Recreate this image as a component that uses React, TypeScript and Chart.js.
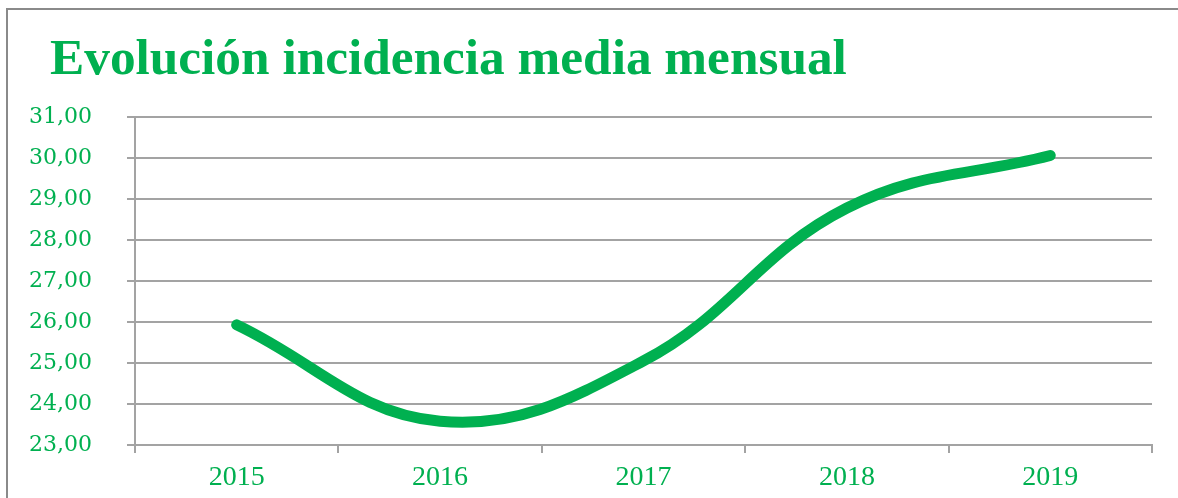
import React, { useEffect, useRef } from "react";
import { Chart, registerables } from "chart.js";

Chart.register(...registerables);

const TITLE = "Evolución incidencia media mensual";
const categories = ["2015", "2016", "2017", "2018", "2019"];
const incidence = [25.93, 23.58, 25.05, 28.78, 30.06];
const yMin = 23;
const yMax = 31;
const yStep = 1;

const GREEN = "#00B050";
const GRID = "#a3a3a3";

const decoPlugin = {
  id: "deco",
  beforeDraw(chart: any) {
    const ctx = chart.ctx;
    ctx.save();
    ctx.strokeStyle = "#8a8a8a";
    ctx.lineWidth = 2;
    ctx.strokeRect(7, 9, 1200, 520);
    ctx.restore();
  },
  afterDraw(chart: any) {
    const ctx = chart.ctx;
    ctx.save();
    let size = 50;
    ctx.font = `bold ${size}px "Liberation Serif"`;
    const w = ctx.measureText(TITLE).width;
    size = (size * 797) / w;
    ctx.font = `bold ${size}px "Liberation Serif"`;
    ctx.fillStyle = GREEN;
    ctx.textBaseline = "alphabetic";
    ctx.textAlign = "left";
    ctx.fillText(TITLE, 50, 74);
    ctx.restore();
  },
};

export default function App() {
  const ref = useRef<HTMLCanvasElement>(null);
  useEffect(() => {
    if (!ref.current) return;
    const chart = new Chart(ref.current, {
      type: "line",
      data: {
        labels: categories,
        datasets: [
          {
            data: incidence,
            borderColor: GREEN,
            backgroundColor: GREEN,
            borderWidth: 11,
            borderCapStyle: "round",
            borderJoinStyle: "round",
            tension: 0.4,
            pointRadius: 0,
            fill: false,
          },
        ],
      },
      options: {
        responsive: false,
        animation: false,
        layout: { padding: { left: 0, top: 117, right: 26, bottom: 0 } },
        plugins: { legend: { display: false }, tooltip: { enabled: false } },
        scales: {
          x: {
            type: "category",
            offset: true,
            afterFit: (s: any) => {
              s.height = 53;
            },
            grid: {
              offset: true,
              drawOnChartArea: false,
              drawTicks: true,
              tickLength: 8,
              color: GRID,
              lineWidth: 2,
            },
            border: { display: true, color: GRID, width: 2 },
            ticks: {
              color: GREEN,
              font: { family: "Liberation Serif", size: 28 },
              padding: 8,
              maxRotation: 0,
            },
          },
          y: {
            min: yMin,
            max: yMax,
            afterFit: (s: any) => {
              s.width = 135;
            },
            grid: {
              color: GRID,
              lineWidth: 2,
              tickLength: 8,
              drawTicks: true,
            },
            border: { display: true, color: GRID, width: 2 },
            ticks: {
              stepSize: yStep,
              color: GREEN,
              padding: 35,
              font: { family: "DejaVu Serif", size: 22 },
              callback: (v: any) => Number(v).toFixed(2).replace(".", ","),
            },
          },
        },
      },
      plugins: [decoPlugin],
    });
    return () => chart.destroy();
  }, []);
  return (
    <div style={{ position: "fixed", left: 0, top: 0, width: 1178, height: 498, background: "#fff" }}>
      <canvas ref={ref} width={1178} height={498} style={{ display: "block" }} />
    </div>
  );
}
